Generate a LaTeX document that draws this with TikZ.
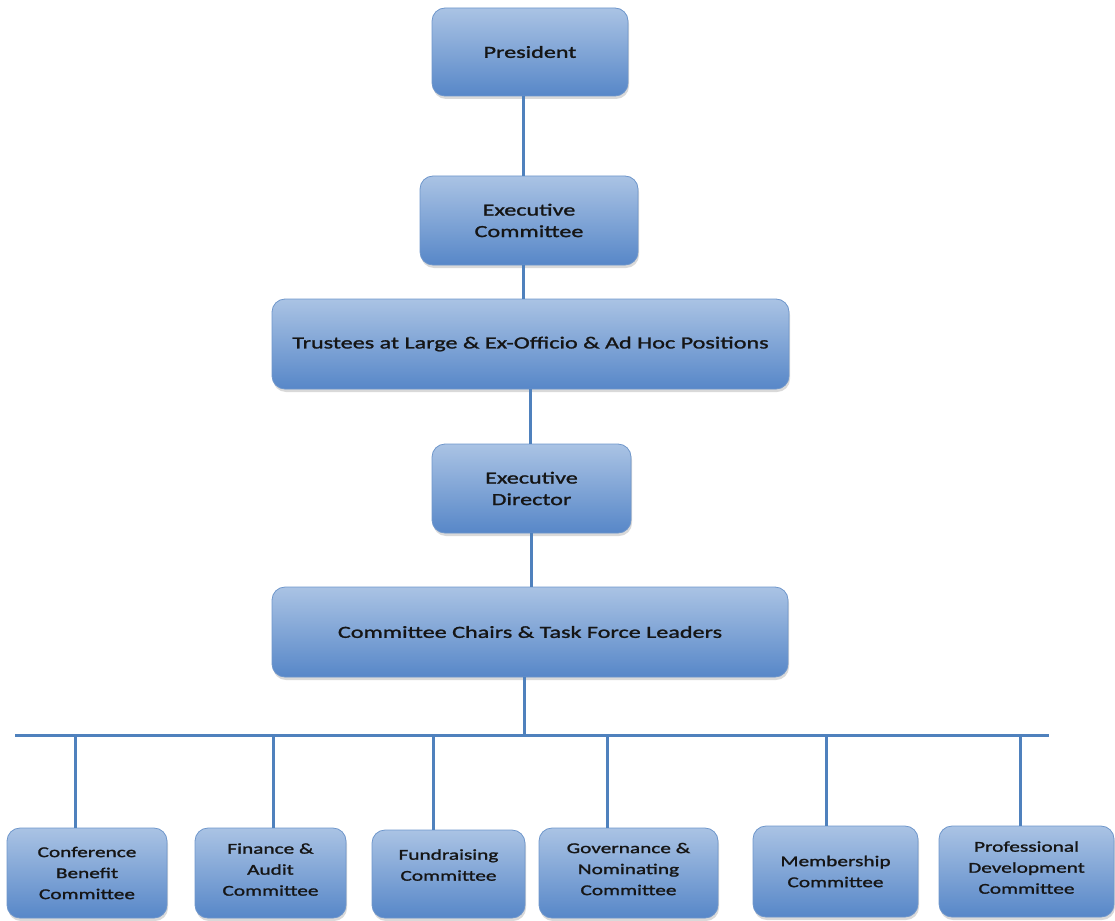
\documentclass[tikz,border=0pt]{standalone}
\usepackage{fontspec}
\newfontfamily\boxfont{Carlito}[FakeStretch=1.42, FakeBold=1.4]
\usetikzlibrary{shadows}
\definecolor{linec}{HTML}{4F81BD}
\definecolor{topc}{HTML}{AAC3E4}
\definecolor{botc}{HTML}{5787C8}
\definecolor{edgec}{HTML}{6E96CB}
\definecolor{txtc}{HTML}{151515}
\tikzset{
  orgbox/.style={draw=edgec, line width=0.8pt, rounded corners=13pt,
    top color=topc, bottom color=botc, align=center, inner sep=2pt,
    font=\boxfont\fontsize{17}{21.5}\selectfont, text=txtc,
    drop shadow={shadow xshift=1pt, shadow yshift=-3pt, opacity=0.25, fill=black!60}},
  smallbox/.style={orgbox, font=\boxfont\fontsize{15}{21}\selectfont},
  conn/.style={draw=linec, line width=3pt}
}
\begin{document}
\begin{tikzpicture}[x=1pt,y=-1pt]
\useasboundingbox (0,0) rectangle (1115,920);
% top chain
\node[orgbox, minimum width=196pt, minimum height=88pt] (pres) at (530,52) {President};
\node[orgbox, minimum width=218pt, minimum height=89pt] (exec) at (529,220.5) {Executive\\Committee};
\node[orgbox, minimum width=517pt, minimum height=90pt] (trust) at (530.5,344) {Trustees at Large \& Ex-Officio \& Ad Hoc Positions};
\node[orgbox, minimum width=199pt, minimum height=89pt] (ed) at (531.5,488.5) {Executive\\Director};
\node[orgbox, minimum width=516pt, minimum height=90pt] (chairs) at (530,632) {Committee Chairs \& Task Force Leaders};
% bottom row
\node[smallbox, minimum width=160pt, minimum height=90pt] (conf) at (87,873) {Conference\\Benefit\\Committee};
\node[smallbox, minimum width=151pt, minimum height=90pt] (fin) at (270.5,873) {Finance \&\\Audit\\Committee\\[-14pt]};
\node[smallbox, minimum width=153pt, minimum height=88pt] (fund) at (448.5,874) {Fundraising\\Committee\\[-3pt]};
\node[smallbox, minimum width=179pt, minimum height=90pt] (gov) at (628.5,873) {Governance \&\\Nominating\\Committee\\[-13pt]};
\node[smallbox, minimum width=165pt, minimum height=91pt] (mem) at (835.5,871.5) {Membership\\Committee};
\node[smallbox, minimum width=175pt, minimum height=91pt] (prof) at (1026.5,871.5) {Professional\\Development\\Committee\\[-13pt]};
% bus
\coordinate (busL) at (15,735);
\coordinate (busR) at (1049,735);
\draw[conn] ([xshift=-7pt]pres.south) -- ([xshift=-6pt]exec.north);
\draw[conn] ([xshift=-6pt]exec.south) -- ([xshift=-7.5pt]trust.north);
\draw[conn] ([xshift=-0.5pt]trust.south) -- ([xshift=-1.5pt]ed.north);
\draw[conn] ([xshift=-0.5pt]ed.south) -- ([xshift=1pt]chairs.north);
\draw[conn] ([xshift=-6pt]chairs.south) -- ([xshift=-6pt]chairs.south |- busL);
\draw[conn] (busL) -- (busR);
\draw[conn] ([xshift=-12pt]conf.north) -- ([xshift=-12pt]conf.north |- busL);
\draw[conn] ([xshift=2.5pt]fin.north) -- ([xshift=2.5pt]fin.north |- busL);
\draw[conn] ([xshift=-15.5pt]fund.north) -- ([xshift=-15.5pt]fund.north |- busL);
\draw[conn] ([xshift=-21.5pt]gov.north) -- ([xshift=-21.5pt]gov.north |- busL);
\draw[conn] ([xshift=-9.5pt]mem.north) -- ([xshift=-9.5pt]mem.north |- busL);
\draw[conn] ([xshift=-6.5pt]prof.north) -- ([xshift=-6.5pt]prof.north |- busL);
\end{tikzpicture}
\end{document}
